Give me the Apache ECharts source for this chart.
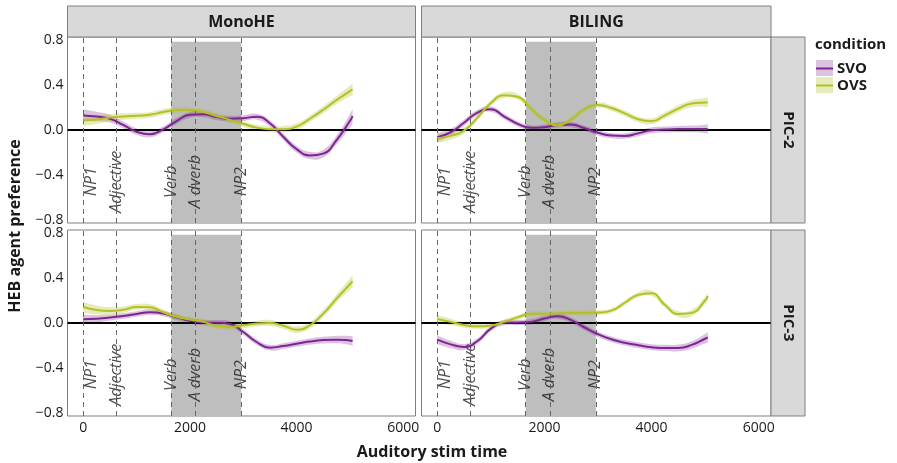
<!DOCTYPE html>
<html><head><meta charset="utf-8">
<script src="https://cdn.jsdelivr.net/npm/echarts@6/dist/echarts.min.js"></script>
<style>html,body{margin:0;padding:0;background:#fff}#c{width:897px;height:463px}</style>
</head><body><div id="c"></div>
<script>
// ---------- data ----------
const times = [0,250,500,750,1000,1250,1500,1750,2000,2250,2500,2750,3000,3250,3500,3750,4000,4250,4500,4750,5000,5050];
const groups = ['MonoHE','BILING'];
const rowLabels = ['PIC-2','PIC-3'];
const conditions = ['SVO','OVS'];
const xTicks = [0,2000,4000,6000];
const yTicks = [-0.8,-0.4,0,0.4,0.8];
const eventTimes = [0,615,1650,2100,2960];
const eventLabels = ['NP1','Adjective','Verb','A dverb','NP2'];
const eventLabelTimes = [150,620,1650,2100,2960];
const eventLabelY = -0.46;
const shadeFrom = 1650, shadeTo = 2960, shadeLow = -0.82, shadeHigh = 0.785;

const monoPic2SVO = [0.13,0.12,0.10,0.045,-0.015,-0.038,0.005,0.08,0.135,0.14,0.115,0.10,0.105,0.118,0.06,-0.06,-0.17,-0.226,-0.21,-0.089,0.08,0.124];
const monoPic2SVOse = [0.055,0.042,0.034,0.03,0.028,0.027,0.026,0.026,0.026,0.026,0.026,0.026,0.026,0.026,0.027,0.028,0.03,0.032,0.034,0.04,0.06,0.07];
const monoPic2OVS = [0.088,0.094,0.11,0.12,0.127,0.135,0.16,0.178,0.177,0.16,0.125,0.09,0.055,0.021,0.007,0.007,0.03,0.1,0.18,0.267,0.345,0.362];
const monoPic2OVSse = [0.05,0.04,0.032,0.028,0.026,0.026,0.026,0.026,0.026,0.026,0.026,0.026,0.026,0.026,0.027,0.028,0.029,0.03,0.032,0.036,0.048,0.055];
const bilPic2SVO = [-0.065,-0.02,0.065,0.155,0.185,0.12,0.055,0.02,0.025,0.045,0.048,0.015,-0.025,-0.05,-0.053,-0.03,-0.003,0.004,0.008,0.009,0.009,0.009];
const bilPic2SVOse = [0.04,0.032,0.027,0.025,0.024,0.024,0.023,0.023,0.023,0.023,0.023,0.023,0.023,0.023,0.024,0.025,0.026,0.027,0.028,0.03,0.038,0.042];
const bilPic2OVS = [-0.074,-0.052,-0.005,0.11,0.24,0.31,0.295,0.19,0.09,0.042,0.095,0.185,0.222,0.195,0.148,0.095,0.078,0.13,0.19,0.235,0.245,0.246];
const bilPic2OVSse = [0.04,0.032,0.028,0.026,0.025,0.025,0.025,0.025,0.025,0.025,0.025,0.025,0.025,0.025,0.025,0.026,0.027,0.028,0.03,0.032,0.04,0.045];
const monoPic3SVO = [0.033,0.038,0.048,0.062,0.08,0.095,0.085,0.05,0.02,0.004,0.002,-0.008,-0.08,-0.169,-0.219,-0.205,-0.185,-0.165,-0.152,-0.148,-0.155,-0.16];
const monoPic3SVOse = [0.04,0.032,0.027,0.025,0.024,0.024,0.024,0.024,0.024,0.024,0.024,0.024,0.024,0.024,0.025,0.026,0.027,0.028,0.03,0.033,0.04,0.045];
const monoPic3OVS = [0.142,0.115,0.107,0.118,0.143,0.14,0.095,0.055,0.03,0.01,-0.025,-0.036,-0.02,-0.005,0.0,-0.025,-0.059,-0.02,0.083,0.217,0.345,0.371];
const monoPic3OVSse = [0.05,0.04,0.032,0.028,0.026,0.026,0.026,0.026,0.026,0.026,0.026,0.026,0.026,0.026,0.027,0.028,0.029,0.03,0.032,0.036,0.05,0.058];
const bilPic3SVO = [-0.148,-0.19,-0.213,-0.16,-0.05,0.003,0.005,0.01,0.04,0.06,0.025,-0.04,-0.1,-0.145,-0.175,-0.197,-0.215,-0.222,-0.222,-0.195,-0.14,-0.128];
const bilPic3SVOse = [0.04,0.032,0.027,0.025,0.024,0.024,0.024,0.024,0.024,0.024,0.024,0.024,0.024,0.024,0.025,0.026,0.027,0.028,0.03,0.033,0.042,0.048];
const bilPic3OVS = [0.036,0.01,-0.018,-0.03,-0.022,0.01,0.05,0.082,0.083,0.087,0.09,0.09,0.093,0.11,0.18,0.25,0.265,0.16,0.08,0.09,0.2,0.24];
const bilPic3OVSse = [0.035,0.028,0.024,0.022,0.021,0.021,0.021,0.021,0.021,0.021,0.021,0.021,0.021,0.021,0.022,0.023,0.024,0.025,0.026,0.028,0.034,0.038];

// ---------- style ----------
const FONT = '"Open Sans", "DejaVu Sans", sans-serif';
const COL = { SVO: '#7e2591', OVS: '#b2c224' };
const BAND = { SVO: 'rgba(126,37,145,0.28)', OVS: 'rgba(178,194,36,0.32)' };
const TXT = '#1a1a1a';

const panels = [
  { svo: monoPic2SVO, svoSe: monoPic2SVOse, ovs: monoPic2OVS, ovsSe: monoPic2OVSse, hlineAbove: true },
  { svo: bilPic2SVO,  svoSe: bilPic2SVOse,  ovs: bilPic2OVS,  ovsSe: bilPic2OVSse,  hlineAbove: false },
  { svo: monoPic3SVO, svoSe: monoPic3SVOse, ovs: monoPic3OVS, ovsSe: monoPic3OVSse, hlineAbove: true },
  { svo: bilPic3SVO,  svoSe: bilPic3SVOse,  ovs: bilPic3OVS,  ovsSe: bilPic3OVSse,  hlineAbove: false }
];
const gridPos = [
  { left: 67.5, top: 37, width: 348, height: 186 },
  { left: 421.5, top: 37, width: 349.5, height: 186 },
  { left: 67.5, top: 230, width: 348, height: 186 },
  { left: 421.5, top: 230, width: 349.5, height: 186 }
];
const XMIN = -295, XMAX = 6230, YMIN = -0.827, YMAX = 0.827;

// smooth path through pixel points (same construction as ECharts' smoothed line)
function smoothSegs(pts, startWithMove) {
  let d = startWithMove ? 'M' + pts[0][0] + ',' + pts[0][1] : 'L' + pts[0][0] + ',' + pts[0][1];
  const n = pts.length, s = 0.5;
  const cp = pts.map((p, k) => {
    if (k === 0 || k === n - 1) return [p, p];
    const pr = pts[k - 1], nx = pts[k + 1];
    const vx = nx[0] - pr[0], vy = nx[1] - pr[1];
    const d0 = Math.hypot(p[0] - pr[0], p[1] - pr[1]), d1 = Math.hypot(nx[0] - p[0], nx[1] - p[1]);
    const r0 = d0 / (d0 + d1), r1 = d1 / (d0 + d1);
    return [[p[0] - vx * s * r0, p[1] - vy * s * r0], [p[0] + vx * s * r1, p[1] + vy * s * r1]];
  });
  for (let k = 0; k < n - 1; k++) {
    const a = cp[k][1], b = cp[k + 1][0], q = pts[k + 1];
    d += 'C' + a[0] + ',' + a[1] + ' ' + b[0] + ',' + b[1] + ' ' + q[0] + ',' + q[1];
  }
  return d;
}

const grids = [], xAxes = [], yAxes = [], series = [];
panels.forEach((p, i) => {
  const g = gridPos[i];
  grids.push({ left: g.left, top: g.top, width: g.width, height: g.height, show: true,
    borderColor: '#7f7f7f', borderWidth: 1, backgroundColor: '#fff', containLabel: false });
  xAxes.push({ type: 'value', gridIndex: i, min: XMIN, max: XMAX,
    axisLine: { show: false }, axisTick: { show: false }, splitLine: { show: false },
    axisLabel: { show: i >= 2, customValues: xTicks, fontSize: 14, color: TXT, fontFamily: FONT, margin: 5,
      formatter: v => String(Math.round(v)) } });
  yAxes.push({ type: 'value', gridIndex: i, min: YMIN, max: YMAX,
    axisLine: { show: false }, axisTick: { show: false }, splitLine: { show: false },
    axisLabel: { show: i % 2 === 0, customValues: yTicks, fontSize: 14, color: TXT, fontFamily: FONT, margin: 4,
      formatter: v => (v < -1e-9 ? '\u2212' : '') + Math.abs(v).toFixed(1) } });

  // shaded word region
  series.push({ type: 'custom', xAxisIndex: i, yAxisIndex: i, z: 1, silent: true,
    data: [[shadeFrom, shadeTo, shadeLow, shadeHigh]],
    renderItem: (params, api) => {
      const a = api.coord([api.value(0), api.value(3)]);
      const b = api.coord([api.value(1), api.value(2)]);
      return { type: 'rect', shape: { x: a[0], y: a[1], width: b[0] - a[0], height: b[1] - a[1] },
        style: { fill: '#bebebe' } };
    } });
  // horizontal zero line
  series.push({ type: 'line', xAxisIndex: i, yAxisIndex: i, data: [], z: p.hlineAbove ? 2 : 0, silent: true,
    markLine: { silent: true, symbol: 'none', label: { show: false }, animation: false,
      lineStyle: { color: '#000', width: 2, type: 'solid' }, data: [{ yAxis: 0 }] } });
  // event dashed lines + labels
  series.push({ type: 'scatter', xAxisIndex: i, yAxisIndex: i, z: 3, silent: true, symbolSize: 0,
    data: eventLabelTimes.map((t, k) => ({ value: [t, eventLabelY], name: eventLabels[k] })),
    label: { show: true, position: 'inside', rotate: 90, formatter: '{b}', fontSize: 16, fontStyle: 'italic',
      color: TXT, fontFamily: FONT, align: 'center', verticalAlign: 'middle' },
    markLine: { silent: true, symbol: 'none', label: { show: false }, animation: false,
      lineStyle: { color: '#666', width: 1, type: [5, 4] }, data: eventTimes.map(t => ({ xAxis: t })) } });
  // confidence ribbons
  [['SVO', p.svo, p.svoSe], ['OVS', p.ovs, p.ovsSe]].forEach(([c, vals, se]) => {
    series.push({ type: 'custom', xAxisIndex: i, yAxisIndex: i, z: 4, silent: true,
      data: [[0]],
      renderItem: (params, api) => {
        const up = times.map((t, k) => api.coord([t, vals[k] + se[k]]));
        const lo = times.map((t, k) => api.coord([t, vals[k] - se[k]])).reverse();
        const d = smoothSegs(up, true) + smoothSegs(lo, false) + 'Z';
        return { type: 'path', shape: { pathData: d }, style: { fill: BAND[c], stroke: null } };
      } });
  });
  [['SVO', p.svo], ['OVS', p.ovs]].forEach(([c, vals]) => {
    series.push({ type: 'line', name: c, xAxisIndex: i, yAxisIndex: i, smooth: true, symbol: 'none', silent: true, z: 5,
      lineStyle: { color: COL[c], width: 2 }, data: times.map((t, k) => [t, vals[k]]) });
  });
});

// strips, titles, legend
const graphic = [];
[0, 1].forEach(c => {
  const g = gridPos[c];
  graphic.push({ type: 'rect', shape: { x: g.left, y: 6, width: g.width, height: 31 },
    style: { fill: '#d9d9d9', stroke: '#7f7f7f', lineWidth: 1 }, z: 10 });
  graphic.push({ type: 'text', x: g.left + g.width / 2, y: 22, z: 11,
    style: { text: groups[c], font: 'bold 16px ' + FONT, fill: TXT, align: 'center', verticalAlign: 'middle' } });
});
[0, 1].forEach(r => {
  const g = gridPos[r * 2 + 1];
  graphic.push({ type: 'rect', shape: { x: g.left + g.width, y: g.top, width: 34, height: g.height },
    style: { fill: '#d9d9d9', stroke: '#7f7f7f', lineWidth: 1 }, z: 10 });
  graphic.push({ type: 'text', x: g.left + g.width + 17, y: g.top + g.height / 2, rotation: -Math.PI / 2, z: 11,
    style: { text: rowLabels[r], font: 'bold 15px ' + FONT, fill: TXT, align: 'center', verticalAlign: 'middle' } });
});
graphic.push({ type: 'text', x: 432, y: 452, z: 11,
  style: { text: 'Auditory stim time', font: 'bold 16px ' + FONT, fill: TXT, align: 'center', verticalAlign: 'middle' } });
graphic.push({ type: 'text', x: 15, y: 226, rotation: Math.PI / 2, z: 11,
  style: { text: 'HEB agent preference', font: 'bold 16px ' + FONT, fill: TXT, align: 'center', verticalAlign: 'middle' } });
graphic.push({ type: 'text', x: 815, y: 45, z: 11,
  style: { text: 'condition', font: 'bold 15px ' + FONT, fill: TXT, align: 'left', verticalAlign: 'middle' } });
conditions.forEach((c, k) => {
  const y0 = 60 + k * 17;
  graphic.push({ type: 'rect', shape: { x: 816, y: y0, width: 17, height: 16 }, style: { fill: BAND[c] }, z: 11 });
  graphic.push({ type: 'line', shape: { x1: 816, y1: y0 + 8.5, x2: 833, y2: y0 + 8.5 }, style: { stroke: COL[c], lineWidth: 2 }, z: 12 });
  graphic.push({ type: 'text', x: 837, y: y0 + 8.5, z: 11,
    style: { text: c, font: 'bold 15px ' + FONT, fill: TXT, align: 'left', verticalAlign: 'middle' } });
});

const chart = echarts.init(document.getElementById('c'));
chart.setOption({
  animation: false,
  backgroundColor: '#fff',
  grid: grids, xAxis: xAxes, yAxis: yAxes, series: series, graphic: graphic
});
</script>
</body></html>
